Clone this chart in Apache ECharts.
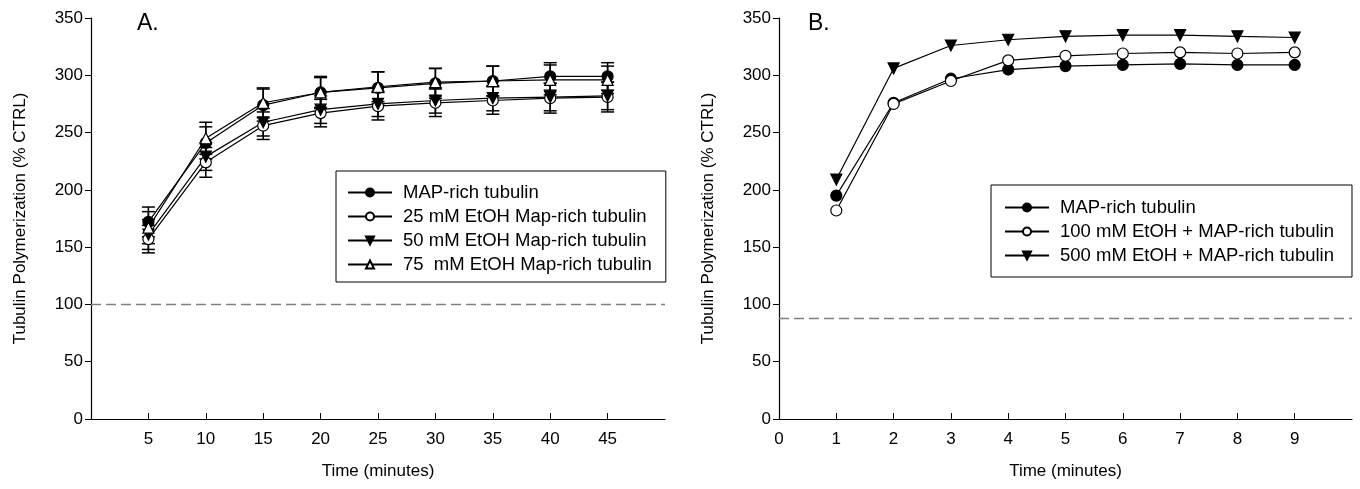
<!DOCTYPE html>
<html>
<head>
<meta charset="utf-8">
<script src="https://cdn.jsdelivr.net/npm/echarts@6/dist/echarts.min.js"></script>
<style>
  html, body { margin: 0; padding: 0; background: #fff; }
  #main { width: 1360px; height: 489px; }
</style>
</head>
<body>
<div id="main"></div>
<script>
// panel A: time in minutes, % of control
const timeA = [5, 10, 15, 20, 25, 30, 35, 40, 45];
const mapRichA = [172, 241, 274, 285, 289, 293, 295, 299, 299];
const etoh25A = [157, 224, 256, 267, 273, 276, 278, 280, 281];
const etoh50A = [161, 229, 259, 270, 275, 278, 280, 281, 282];
const etoh75A = [167, 245, 276, 285, 290, 294, 295, 296, 296];
// error bar half widths
const mapRichErr = [13, 14, 14, 14, 14, 13, 13, 12, 12];
const etoh25Err = [12, 13, 12, 12, 12, 12, 12, 13, 13];
const etoh50Err = [13, 12, 12, 12, 11, 11, 11, 12, 12];
const etoh75Err = [14, 14, 13, 13, 13, 12, 13, 13, 12];

// panel B
const timeB = [1, 2, 3, 4, 5, 6, 7, 8, 9];
const mapRichB = [195, 276, 297, 305, 308, 309, 310, 309, 309];
const etoh100B = [182, 275, 295, 313, 317, 319, 320, 319, 320];
const etoh500B = [209, 306, 326, 331, 334, 335, 335, 334, 333];

const ctrlA = 100;
const ctrlB = 88;

const namesA = ['MAP-rich tubulin', '25 mM EtOH Map-rich tubulin', '50 mM EtOH Map-rich tubulin', '75  mM EtOH Map-rich tubulin'];
const namesB = ['MAP-rich tubulin', '100 mM EtOH + MAP-rich tubulin', '500 mM EtOH + MAP-rich tubulin'];

const font = 'Liberation Sans, Arial, sans-serif';

const pair = (xs, ys) => xs.map((x, i) => [x, ys[i]]);

// marker styles: filled circle, open circle, filled down triangle, open up triangle
const marks = [
  { symbol: 'circle', rotate: 0, fill: '#000' },
  { symbol: 'circle', rotate: 0, fill: '#fff' },
  { symbol: 'triangle', rotate: 180, fill: '#000' },
  { symbol: 'triangle', rotate: 0, fill: '#fff' }
];

function lineSeries(name, data, m, idx) {
  return {
    name: name,
    type: 'line',
    xAxisIndex: idx,
    yAxisIndex: idx,
    data: data,
    symbol: m.symbol,
    symbolRotate: m.rotate,
    symbolSize: 11,
    lineStyle: { color: '#000', width: 1.2 },
    itemStyle: { color: m.fill, borderColor: '#000', borderWidth: 1.2 },
    z: 3
  };
}

// error bars for panel A
const errRows = [];
[[mapRichA, mapRichErr], [etoh25A, etoh25Err], [etoh50A, etoh50Err], [etoh75A, etoh75Err]].forEach(([vals, errs]) => {
  timeA.forEach((t, i) => errRows.push([t, vals[i] - errs[i], vals[i] + errs[i]]));
});

const errorSeries = {
  type: 'custom',
  xAxisIndex: 0,
  yAxisIndex: 0,
  data: errRows,
  z: 2,
  silent: true,
  renderItem: function (params, api) {
    const x = api.value(0);
    const lo = api.coord([x, api.value(1)]);
    const hi = api.coord([x, api.value(2)]);
    const w = 6.5;
    const st = { stroke: '#000', lineWidth: 1.5 };
    return {
      type: 'group',
      children: [
        { type: 'line', shape: { x1: lo[0], y1: lo[1], x2: hi[0], y2: hi[1] }, style: st },
        { type: 'line', shape: { x1: lo[0] - w, y1: lo[1], x2: lo[0] + w, y2: lo[1] }, style: st },
        { type: 'line', shape: { x1: hi[0] - w, y1: hi[1], x2: hi[0] + w, y2: hi[1] }, style: st }
      ]
    };
  }
};

function ctrlLine(idx, value, name) {
  return {
    name: name,
    type: 'line',
    xAxisIndex: idx,
    yAxisIndex: idx,
    data: [],
    silent: true,
    markLine: {
      silent: true,
      symbol: 'none',
      label: { show: false },
      lineStyle: { color: '#808080', type: [10, 5], width: 1.3 },
      data: [{ yAxis: value }]
    }
  };
}

const yAxisBase = {
  type: 'value',
  min: 0,
  max: 350,
  interval: 50,
  name: 'Tubulin Polymerization (% CTRL)',
  nameLocation: 'middle',
  nameGap: 62,
  nameTextStyle: { color: '#000', fontSize: 17, fontFamily: font },
  axisLine: { show: true, lineStyle: { color: '#000', width: 1.2 } },
  axisTick: { show: true, inside: false, length: 6, lineStyle: { color: '#000' } },
  axisLabel: { color: '#000', fontSize: 17, fontFamily: font, margin: 8 },
  splitLine: { show: false }
};

function xAxisBase(idx, max, interval) {
  return {
    type: 'value',
    gridIndex: idx,
    min: 0,
    max: max,
    interval: interval,
    name: 'Time (minutes)',
    nameLocation: 'middle',
    nameGap: 44,
    nameTextStyle: { color: '#000', fontSize: 17, fontFamily: font },
    axisLine: { show: true, onZero: false, lineStyle: { color: '#000', width: 1.2 } },
    axisTick: { show: true, inside: true, length: 6, lineStyle: { color: '#000' } },
    axisLabel: {
      color: '#000', fontSize: 17, fontFamily: font, margin: 12,
      showMaxLabel: false,
      formatter: v => (idx === 0 && v === 0) ? '' : String(v)
    },
    splitLine: { show: false }
  };
}

const legendBase = {
  orient: 'vertical',
  borderColor: '#000',
  borderWidth: 1,
  itemWidth: 44,
  itemHeight: 10,
  itemGap: 5,
  selectedMode: false,
  textStyle: { color: '#000', fontSize: 18.5, fontFamily: font, padding: [0, 0, 0, 6] }
};

const option = {
  animation: false,
  backgroundColor: '#fff',
  grid: [
    { left: 91, right: 695, top: 18, bottom: 70 },
    { left: 779, right: 8, top: 18, bottom: 70 }
  ],
  xAxis: [xAxisBase(0, 50, 5), xAxisBase(1, 10, 1)],
  yAxis: [
    Object.assign({}, yAxisBase, { gridIndex: 0 }),
    Object.assign({}, yAxisBase, { gridIndex: 1 })
  ],
  legend: [
    Object.assign({}, legendBase, { data: namesA, left: 336, top: 171, padding: [12, 14, 8, 11] }),
    Object.assign({}, legendBase, { data: namesB, left: 991, top: 185, padding: [13, 18, 12, 13] })
  ],
  graphic: [
    { type: 'text', left: 137, top: 12, style: { text: 'A.', fontSize: 23, fontFamily: font, fill: '#000' } },
    { type: 'text', left: 808, top: 12, style: { text: 'B.', fontSize: 23, fontFamily: font, fill: '#000' } }
  ],
  series: [
    ctrlLine(0, ctrlA, 'ctrlA'),
    ctrlLine(1, ctrlB, 'ctrlB'),
    errorSeries,
    lineSeries(namesA[0], pair(timeA, mapRichA), marks[0], 0),
    lineSeries(namesA[1], pair(timeA, etoh25A), marks[1], 0),
    lineSeries(namesA[2], pair(timeA, etoh50A), marks[2], 0),
    lineSeries(namesA[3], pair(timeA, etoh75A), marks[3], 0),
    lineSeries(namesB[0], pair(timeB, mapRichB), marks[0], 1),
    lineSeries(namesB[1], pair(timeB, etoh100B), marks[1], 1),
    lineSeries(namesB[2], pair(timeB, etoh500B), marks[2], 1)
  ]
};

const chartDom = document.getElementById('main');
const myChart = echarts.init(chartDom);
myChart.setOption(option);
</script>
</body>
</html>
